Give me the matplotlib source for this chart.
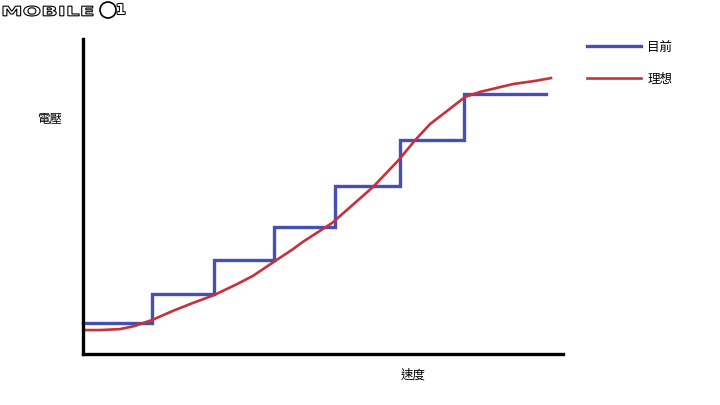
import matplotlib
matplotlib.use("Agg")
import matplotlib.pyplot as plt
import matplotlib.patheffects as pe
from matplotlib.textpath import TextPath
from matplotlib.patches import PathPatch, Circle
from matplotlib.transforms import Affine2D

plt.rcParams['font.family'] = ['Noto Sans CJK TC', 'DejaVu Sans']

# 目前: stepped voltage vs speed
step_x = [0, 14.4, 27.3, 39.8, 52.5, 66.0, 79.4, 96.5]
step_y = [9.8, 19.0, 29.8, 40.3, 53.3, 67.9, 82.5, 82.5]

# 理想: smooth curve
ideal_x = [0.6, 3.5, 7.7, 10.8, 14.4, 18.75, 22.9, 27.3, 32.1, 35.4, 40.0, 43.75,
           45.8, 51.9, 60.4, 65.6, 69.2, 72.3, 75.8, 79.6, 82.7, 89.6, 94.2, 97.5]
ideal_y = [7.6, 7.6, 7.9, 8.9, 10.8, 13.7, 16.2, 18.7, 22.2, 24.8, 29.5, 33.3,
           35.6, 41.6, 53.0, 61.3, 67.9, 73.0, 77.1, 81.6, 83.2, 85.7, 86.7, 87.6]

labels = ['目前', '理想']
colors = ['#4450b8', '#c8303a']

W, H = 720, 406
fig = plt.figure(figsize=(W / 100, H / 100), dpi=100)
ax = fig.add_axes([83 / W, (H - 355) / H, 480 / W, 315 / H])

ax.step(step_x, step_y, where='post', color=colors[0], lw=2.4, label=labels[0],
        solid_joinstyle='miter', clip_on=False)
ax.plot(ideal_x, ideal_y, color=colors[1], lw=1.9, label=labels[1],
        solid_joinstyle='round', clip_on=False)

ax.set_xlim(0, 100)
ax.set_ylim(0, 100)
for s in ['top', 'right']:
    ax.spines[s].set_visible(False)
for s in ['left', 'bottom']:
    ax.spines[s].set_linewidth(2.4)
    ax.spines[s].set_capstyle('projecting')
ax.set_xticks([])
ax.set_yticks([])

fig.text(50 / W, 1 - 120 / H, '電壓', fontsize=9, ha='center', va='center')
fig.text(413 / W, 1 - 375 / H, '速度', fontsize=9, ha='center', va='center')

ax.legend(loc='upper left', bbox_to_anchor=(576 / W, 1 - 30 / H),
          bbox_transform=fig.transFigure, frameon=False, fontsize=9,
          handlelength=4.3, handletextpad=0.5, labelspacing=1.5)

# watermark, drawn in pixel coords (y down)
tp = TextPath((0, 0), 'MOBILE', size=10, prop={'family': 'DejaVu Sans', 'weight': 'bold'})
ext = tp.get_extents()
tr = (Affine2D().translate(-ext.x0, -ext.y0)
      .scale(90 / ext.width, -10 / ext.height).translate(3, 17)
      + Affine2D().scale(1, -1).translate(0, H))
fig.patches.append(PathPatch(tp, transform=tr, facecolor='white',
                             edgecolor='black', lw=0.8))
fig.patches.append(Circle((108, H - 11), 8, transform=None, facecolor='white',
                          edgecolor='black', lw=1.2))
fig.text(116 / W, 1 - 11 / H, '1', fontsize=10, fontweight='bold', color='white',
         family='DejaVu Sans', ha='left', va='center',
         path_effects=[pe.withStroke(linewidth=1.5, foreground='black')])

fig.savefig('out.png', dpi=100)
